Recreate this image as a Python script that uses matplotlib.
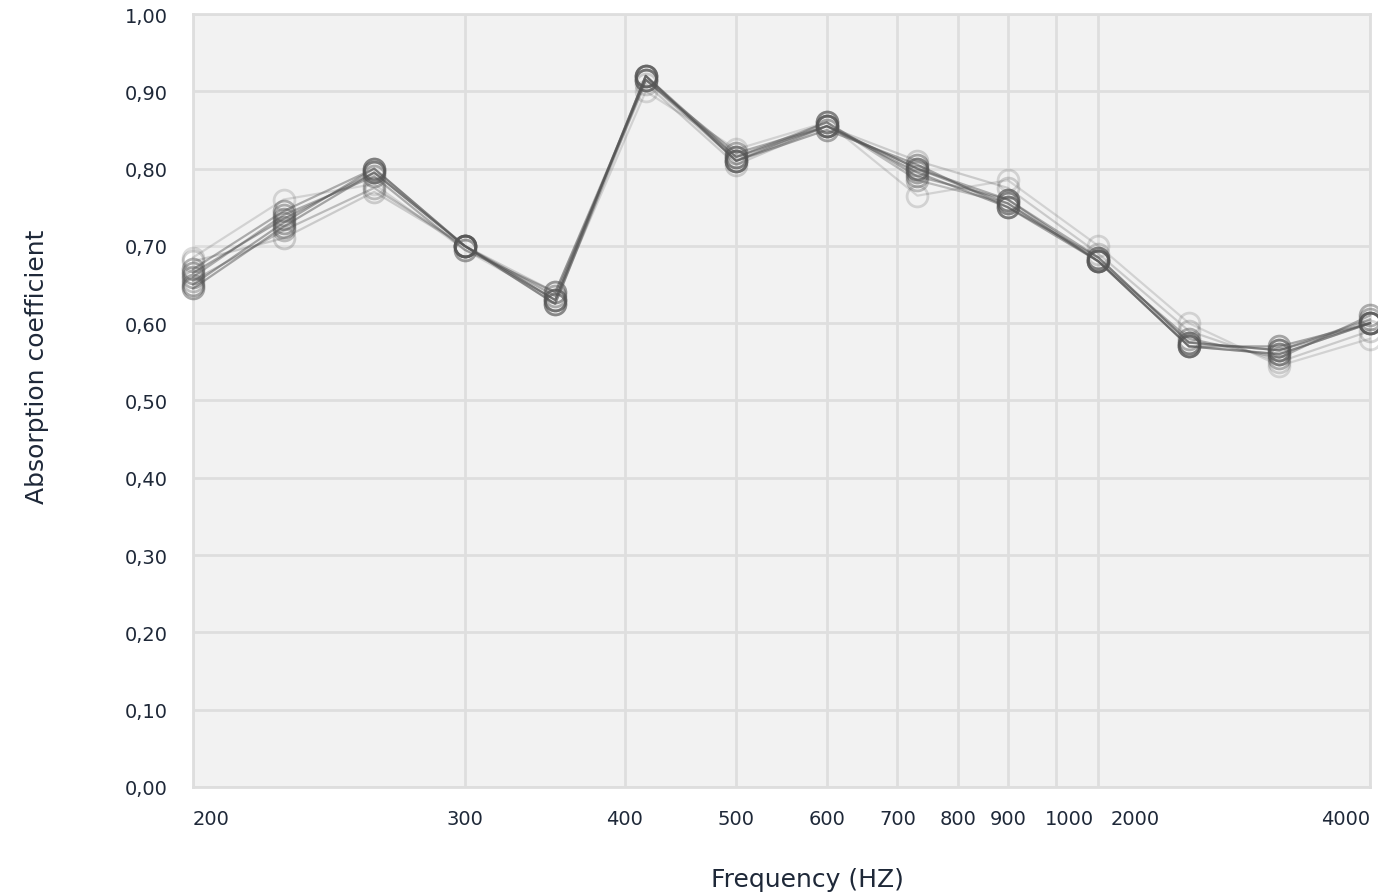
import matplotlib.pyplot as plt
import matplotlib.transforms as mtransforms
import numpy as np

plt.rcParams['font.family'] = ['DejaVu Sans']

# 1/3-octave band measurements (evenly spaced on the chart)
bands = [200, 250, 315, 400, 500, 630, 800, 1000, 1250, 1600, 2000, 2500, 3150, 4000]

s1 = [0.650, 0.730, 0.800, 0.700, 0.630, 0.920, 0.810, 0.855, 0.800, 0.755, 0.680, 0.570, 0.560, 0.600]
s2 = [0.660, 0.740, 0.790, 0.695, 0.640, 0.915, 0.815, 0.860, 0.790, 0.760, 0.685, 0.575, 0.565, 0.605]
s3 = [0.645, 0.725, 0.795, 0.700, 0.625, 0.920, 0.810, 0.850, 0.805, 0.750, 0.680, 0.570, 0.570, 0.600]
s4 = [0.670, 0.745, 0.800, 0.700, 0.635, 0.915, 0.820, 0.855, 0.800, 0.760, 0.680, 0.580, 0.555, 0.610]
s5 = [0.685, 0.760, 0.780, 0.695, 0.630, 0.900, 0.825, 0.860, 0.765, 0.785, 0.700, 0.600, 0.545, 0.580]
s6 = [0.680, 0.710, 0.770, 0.700, 0.640, 0.910, 0.805, 0.855, 0.810, 0.775, 0.690, 0.590, 0.550, 0.590]
s7 = [0.655, 0.720, 0.775, 0.700, 0.625, 0.915, 0.810, 0.860, 0.785, 0.755, 0.680, 0.570, 0.560, 0.600]
s8 = [0.665, 0.735, 0.795, 0.700, 0.630, 0.920, 0.815, 0.855, 0.795, 0.750, 0.685, 0.575, 0.565, 0.600]
series = [s1, s2, s3, s4, s5, s6, s7, s8]
alphas = [0.5, 0.45, 0.5, 0.45, 0.2, 0.25, 0.35, 0.5]

tick_labels = ['200', '300', '400', '500', '600', '700', '800', '900', '1000', '2000', '4000']
tick_pos = [0, 3, 4.77, 6, 7, 7.78, 8.45, 9, 9.53, 10, 13]
# the crowded 1000/2000 labels are nudged right (pixels), like in the original
label_shift = [0, 0, 0, 0, 0, 0, 0, 0, 14, 37, 0]

y_ticks = np.arange(0, 1.01, 0.1)

txt = '#1e2838'
grid = '#dedede'

fig = plt.figure(figsize=(13.78, 8.95), dpi=100)
ax = fig.add_axes([0.1401, 0.1196, 0.8541, 0.8636])
ax.set_facecolor('#f2f2f2')

x = np.arange(len(bands))
for s, a in zip(series, alphas):
    ax.plot(x, s, color='#555555', alpha=a, lw=1.6, marker='o', ms=15,
            mfc='none', mec='#555555', mew=2, clip_on=False, zorder=3)

ax.set_xlim(0, 13)
ax.set_ylim(0, 1)
ax.set_xticks(tick_pos)
ax.set_xticklabels(tick_labels)
ax.set_yticks(y_ticks)
ax.set_yticklabels([f'{v:.2f}'.replace('.', ',') for v in y_ticks])

ax.grid(True, color=grid, lw=2, zorder=0)
ax.set_axisbelow(True)
for sp in ax.spines.values():
    sp.set_color(grid)
    sp.set_linewidth(2)
ax.tick_params(length=0, labelsize=14, labelcolor=txt)
ax.tick_params(axis='y', pad=18)
ax.tick_params(axis='x', pad=16)

labs = ax.get_xticklabels()
labs[0].set_ha('left')
labs[-1].set_ha('right')
for lab, dx in zip(labs, label_shift):
    if dx:
        lab.set_transform(lab.get_transform() +
                          mtransforms.ScaledTranslation(dx / 100, 0, fig.dpi_scale_trans))

fig.text(807 / 1378, 1 - 880 / 895, 'Frequency (HZ)', ha='center', va='center',
         fontsize=18, color=txt)
fig.text(37 / 1378, 1 - 367 / 895, 'Absorption coefficient', ha='center', va='center',
         rotation=90, fontsize=18, color=txt)

fig.savefig('out.png', dpi=100)
